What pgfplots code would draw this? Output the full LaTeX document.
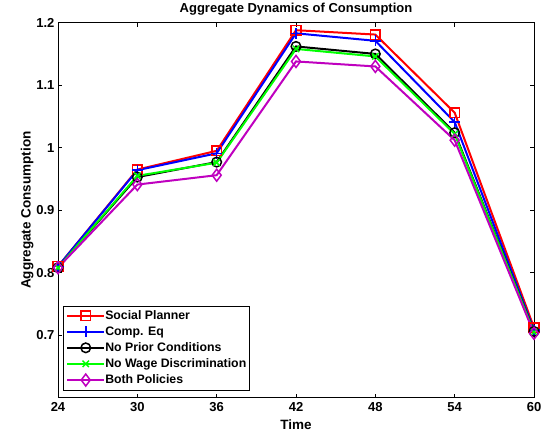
\documentclass[border=0pt]{standalone}
\usepackage{pgfplots}
\pgfplotsset{compat=1.18}
\usepackage{fontspec}
\setmainfont{Liberation Sans}
\definecolor{mpurple}{rgb}{0.75,0,0.75}
\begin{document}
\begin{tikzpicture}
\path[use as bounding box] (0pt,0pt) rectangle (549pt,438pt);
\begin{axis}[
  at={(58pt,40.3pt)}, anchor=south west,
  scale only axis, width=476pt, height=375pt,
  xmin=24, xmax=60, ymin=0.6, ymax=1.2,
  xtick={24,30,36,42,48,54,60},
  ytick={0.7,0.8,0.9,1,1.1,1.2},
  tick align=inside, major tick length=4pt,
  tick style={black, line width=0.7pt},
  axis line style={line width=1pt},
  /pgf/number format/assume math mode=true,
  /pgf/number format/fixed,
  ticklabel style={font=\fontsize{13}{14}\selectfont\bfseries},
  xticklabel style={yshift=-1pt},
  title={\bfseries Aggregate Dynamics of Consumption},
  title style={font=\fontsize{13}{14}\selectfont, yshift=-2pt},
  xlabel={\bfseries Time},
  ylabel={\bfseries Aggregate Consumption},
  label style={font=\fontsize{13.5}{14}\selectfont},
  xlabel style={yshift=-1pt},
  ylabel style={yshift=-4pt},
  legend style={at={(0.010,0.019)}, anchor=south west,
    font=\fontsize{12.3}{14}\selectfont\bfseries, draw=black, line width=1pt,
    nodes={inner sep=0pt, text height=9pt, text depth=2.5pt},
    row sep=4.5pt, inner xsep=3pt, inner ysep=4pt},
  legend cell align=left,
  legend image code/.code={%
    \draw[mark repeat=2,mark phase=2] plot coordinates {(0pt,0pt) (18.5pt,0pt) (37pt,0pt)};},
  every axis plot/.append style={line width=2pt},
]
\addplot[red, mark=square, mark size=4.8pt, mark options={line width=1.5pt}] coordinates {
 (24,0.810) (30,0.965) (36,0.995) (42,1.188) (48,1.181) (54,1.056) (60,0.712)};
\addlegendentry{Social Planner}
\addplot[blue, mark=+, mark size=5.5pt, mark options={line width=1.5pt}] coordinates {
 (24,0.810) (30,0.964) (36,0.991) (42,1.183) (48,1.171) (54,1.041) (60,0.708)};
\addlegendentry{Comp. Eq}
\addplot[black, mark=o, mark size=4.8pt, mark options={line width=1.5pt}] coordinates {
 (24,0.808) (30,0.953) (36,0.977) (42,1.162) (48,1.150) (54,1.024) (60,0.706)};
\addlegendentry{No Prior Conditions}
\addplot[green, mark=x, mark size=4.5pt, mark options={line width=1.5pt}] coordinates {
 (24,0.808) (30,0.955) (36,0.976) (42,1.158) (48,1.146) (54,1.022) (60,0.705)};
\addlegendentry{No Wage Discrimination}
\addplot[mpurple, mark=diamond, mark size=6pt, mark options={line width=1.5pt}] coordinates {
 (24,0.808) (30,0.941) (36,0.956) (42,1.138) (48,1.130) (54,1.012) (60,0.703)};
\addlegendentry{Both Policies}
\end{axis}
\end{tikzpicture}
\end{document}
